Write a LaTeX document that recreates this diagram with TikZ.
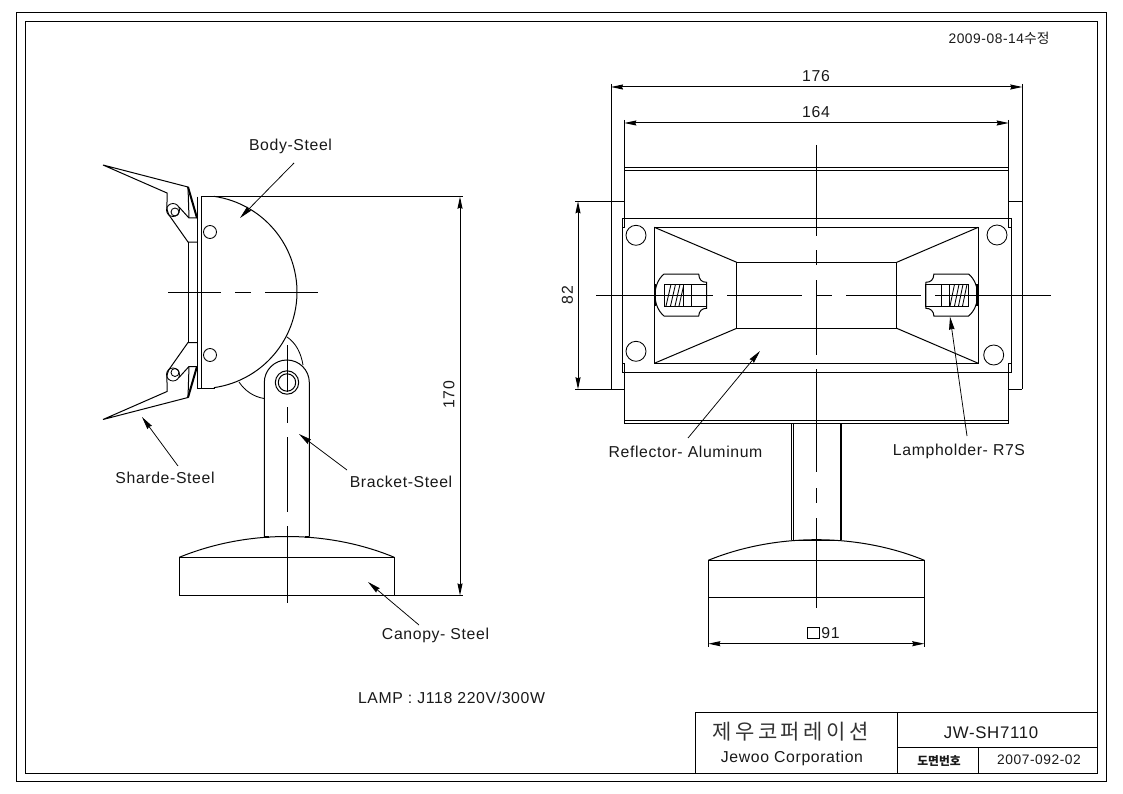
\documentclass[tikz,border=0pt]{standalone}
\usepackage{fontspec}
\setmainfont[LetterSpace=4]{Liberation Sans}
\newfontfamily\krfont{Noto Sans CJK KR}
\usetikzlibrary{arrows.meta}
\tikzset{
  x=1pt,y=-1pt,
  part/.style={line width=1pt,line join=miter},
  thin part/.style={line width=0.85pt},
  heavy/.style={line width=2pt},
  centre/.style={line width=0.95pt},
  dimline/.style={line width=1pt,{Stealth[length=12pt,width=5pt,inset=1pt]}-{Stealth[length=12pt,width=5pt,inset=1pt]}},
  leader/.style={line width=0.75pt,-{Stealth[length=13pt,width=5.5pt,inset=1pt]}},
  lab/.style={inner sep=0pt,font=\fontsize{15.8}{17}\selectfont,text=black!90},
  small/.style={lab,font=\fontsize{13.8}{15}\selectfont},
}
\newcommand{\bladeshape}{%
  \draw[part] (189,218) -- (188,187) -- (103,165) -- (167,193) -- (167,202)
     .. controls (166,208) and (168,213) .. (169,215) -- (188,242) -- (197,242);
  \draw[thin part] (173,210) circle[radius=6.5];
  \draw[thin part] (175,212) circle[radius=4];
  \draw[part] (179,207) -- (189,218) -- (197,218);
  \draw[heavy] (188,187) -- (197,218);
}
\newcommand{\holdershape}{%
  \draw[part] (664,274) -- (698.7,274) .. controls (699,280) and (702,282.3) .. (706.7,282.3)
     -- (706.7,308.3) .. controls (702,308.3) and (699,311) .. (698.7,316) -- (664,316)
     .. controls (658,311) and (655,303) .. (655,295) .. controls (655,287) and (658,279) .. (664,274) -- cycle;
  \draw[heavy] (655.3,284) -- (655.3,306);
  \draw[part] (664,284.3) rectangle (706.7,306);
  \draw[part] (683.3,284.3) -- (683.3,306) (691.3,284.3) -- (691.3,306);
}
\begin{document}
\begin{tikzpicture}
\useasboundingbox[fill=white] (0,0) rectangle (1123,794);
% frames
\draw[part] (16,13) rectangle (1106,781.5);
\draw[part] (25,22) rectangle (1097.5,773);
% title block
\draw[part] (695,712) -- (1097.5,712);
\draw[part] (695,712) -- (695,773);
\draw[part] (897.5,712) -- (897.5,773);
\draw[part] (897.5,747) -- (1097.5,747);
\draw[part] (978.5,747) -- (978.5,773);
\node[lab,font=\krfont\fontsize{21}{23}\selectfont,text=black!80] (tcompany) at (790.5,732) {제\,우\,코\,퍼\,레\,이\,션};
\node[lab] (tcorp) at (792,758) {Jewoo Corporation};
\node[lab,font=\fontsize{16.8}{18}\selectfont] (tmodel) at (991,733) {JW-SH7110};
\node[lab,font=\krfont\bfseries\fontsize{11.8}{13}\selectfont] (tlabel) at (939,760.5) {도면번호};
\node[small] (tnumber) at (1039,760) {2007-092-02};
\node[small] (tdate) at (999,38.5) {2009-08-14{\krfont 수정}};
\node[lab] (tlamp) at (451.5,698) {LAMP : J118 220V/300W};

% ---------- side view ----------
\bladeshape
\begin{scope}[shift={(0,584.5)},yscale=-1]
\bladeshape
\end{scope}
\draw[part] (188,242) -- (188,342.5);
\draw[part] (197.3,196.7) -- (197.3,388) -- (215,388);
\draw[part] (201.3,196.7) -- (201.3,388);
\draw[part] plot[domain=-82:82,samples=60] ({200.4+96.6*cos(\x)},{292-96.6*sin(\x)});
\draw[thin part] (210,232) circle[radius=6.5];
\draw[thin part] (210,355) circle[radius=6.5];
% pivot behind bracket
\draw[thin part] (239,382) .. controls (245,391) and (254,397) .. (264.3,398.5);
\draw[thin part] (287,337) .. controls (296,343) and (301,353) .. (303,365);
% bracket
\draw[part,fill=white] (264.3,536.5) -- (264.3,382.5)
   .. controls (264.3,370) and (274.5,360) .. (286.8,360)
   .. controls (299.2,360) and (309.3,370) .. (309.3,382.5) -- (309.3,536.5);
\draw[part] (287,382.5) circle[radius=11.7];
\draw[part] (287,382.5) circle[radius=8.7];
\draw[heavy] (264.3,536.5) -- (269,536.5) (304.5,536.5) -- (309.3,536.5);
% canopy
\draw[part] (179.3,557.3) .. controls (213,543.5) and (250,536.5) .. (287,536.5)
   .. controls (324,536.5) and (361,543.5) .. (394.3,557.3);
\draw[part] (179.3,557.3) rectangle (394.3,595.5);
% centre lines
\draw[centre] (168,292) -- (221,292) (235,292) -- (251,292) (265,292) -- (318,292);
\draw[centre] (287,345) -- (287,392) (287,407) -- (287,423) (287,437) -- (287,512) (287,526) -- (287,603);
% overall height dimension
\coordinate (hTop) at (460,196.7);
\coordinate (hBot) at (460,595.5);
\draw[part] (201.3,196.7) -- (463,196.7);
\draw[part] (394.3,595.5) -- (463,595.5);
\draw[dimline] (hTop) -- (hBot);
\node[lab,rotate=90] (d170) at (449,395) {170};

% side view labels and leaders
\node[lab] (lbody) at (290.5,146) {Body-Steel};
\node[lab] (lshade) at (165,478) {Sharde-Steel};
\node[lab] (lbracket) at (401,482) {Bracket-Steel};
\node[lab] (lcanopy) at (435.5,635) {Canopy- Steel};
\coordinate (bodyT) at (240,218);
\coordinate (shadeT) at (142,417);
\coordinate (bracketT) at (299,434);
\coordinate (canopyT) at (368,582);
\draw[leader] (294,163) -- (bodyT);
\draw[leader] (178,466) -- (shadeT);
\draw[leader] (347,470) -- (bracketT);
\draw[leader] (419,625) -- (canopyT);

% ---------- front view ----------
% body, broken where the plate passes
\draw[part] (624.3,227.6) -- (624.3,167.3) -- (1008.7,167.3) -- (1008.7,227.6);
\draw[part] (624.3,363.3) -- (624.3,423.3) -- (1008.7,423.3) -- (1008.7,363.3);
\draw[part] (624.3,170.7) -- (1008.7,170.7);
\draw[part] (624.3,420.3) -- (1008.7,420.3);
% side lugs
\draw[part] (611,201.3) -- (624.3,201.3) (611,389.3) -- (624.3,389.3);
\draw[part] (1008.7,201.3) -- (1022.3,201.3) (1008.7,389.3) -- (1022.3,389.3);
\draw[part] (1022.3,84) -- (1022.3,389.3);
\draw[part] (611,84) -- (611,389.3);
% plate
\draw[part] (622.3,218.3) rectangle (1011.3,372.3);
\draw[part] (622.3,227.6) -- (624.3,227.6) (1008.7,227.6) -- (1011.3,227.6);
\draw[part] (622.3,363.3) -- (624.3,363.3) (1008.7,363.3) -- (1011.3,363.3);
% reflector
\draw[part] (654.3,227.3) rectangle (978.3,363.3);
\draw[part] (736.7,262.3) rectangle (896.7,328.3);
\draw[part] (654.3,227.3) -- (736.7,262.3) (654.3,363.3) -- (736.7,328.3);
\draw[part] (978.3,227.3) -- (896.7,262.3) (978.3,363.3) -- (896.7,328.3);
% holes
\draw[thin part] (636,235.3) circle[radius=10];
\draw[thin part] (636,351.3) circle[radius=10];
\draw[thin part] (997,235) circle[radius=10];
\draw[thin part] (993.7,355) circle[radius=10];
% lamp holders
\holdershape
\begin{scope}[shift={(1632.6,0)},xscale=-1]
\holdershape
\end{scope}
\draw[thin part] (666,306) -- (671,284.3) (670.5,306) -- (675.5,284.3) (675,306) -- (680,284.3) (679,306) -- (683.3,287);
\draw[thin part] (950,306) -- (954.5,284.3) (954.5,306) -- (959,284.3) (958.5,306) -- (963,284.3) (962.5,306) -- (967,284.3);
% stem
\draw[part] (791.7,423.3) -- (791.7,540) (793.7,423.3) -- (793.7,540);
\draw[heavy] (841,423.3) -- (841,540);
\draw[part] (793,540) -- (841,540);
% canopy
\draw[part] (708.3,560.3) .. controls (742,546.5) and (780,539.7) .. (816.5,539.7)
   .. controls (853,539.7) and (891,546.5) .. (924.3,560.3);
\draw[part] (708.3,560.3) rectangle (924.3,597.3);
% centre lines
\draw[centre] (596,295.3) -- (713,295.3) (727,295.3) -- (802,295.3) (817,295.3) -- (832,295.3) (846,295.3) -- (921,295.3) (935,295.3) -- (1051,295.3);
\draw[centre] (816.7,145) -- (816.7,236) (816.7,250) -- (816.7,265) (816.7,280) -- (816.7,355) (816.7,369) -- (816.7,472) (816.7,488) -- (816.7,503) (816.7,518) -- (816.7,608);
% dimensions
\coordinate (a1) at (611,87);
\coordinate (a2) at (1022.3,87);
\coordinate (b1) at (624.3,123);
\coordinate (b2) at (1008.7,123);
\coordinate (c1) at (578,201.3);
\coordinate (c2) at (578,389.3);
\coordinate (e1) at (708.3,643.7);
\coordinate (e2) at (924.3,643.7);
\draw[part] (624.3,120) -- (624.3,167.3) (1008.7,120) -- (1008.7,167.3);
\draw[part] (575,201.3) -- (611,201.3) (575,389.3) -- (611,389.3);
\draw[part] (708.3,597.3) -- (708.3,647) (924.3,597.3) -- (924.3,647);
\draw[dimline] (a1) -- (a2);
\draw[dimline] (b1) -- (b2);
\draw[dimline] (c1) -- (c2);
\draw[dimline] (e1) -- (e2);
\node[lab] (d176) at (816,76) {176};
\node[lab] (d164) at (816,112) {164};
\node[lab,rotate=90] (d82) at (567.5,295) {82};
\draw[thin part] (807.3,627.3) rectangle (819,638.3);
\node[lab] (d91) at (830.5,633) {91};
% front view labels and leaders
\node[lab] (lrefl) at (685.5,452) {Reflector- Aluminum};
\node[lab] (lhold) at (959,451) {Lampholder- R7S};
\coordinate (reflT) at (760,351);
\coordinate (holdT) at (950,316.7);
\draw[leader] (688,438) -- (reflT);
\draw[leader] (967,436) -- (holdT);
\end{tikzpicture}
\end{document}
